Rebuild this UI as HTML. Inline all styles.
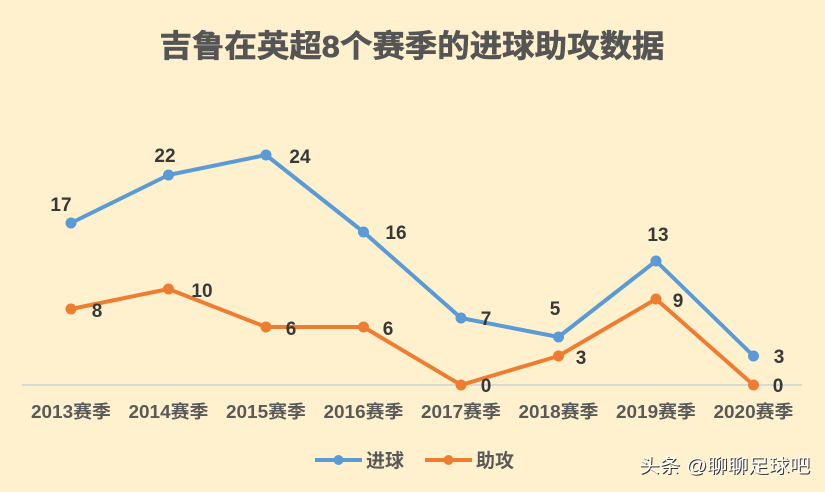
<!DOCTYPE html>
<html><head><meta charset="utf-8"><style>
html,body{margin:0;padding:0;background:#FFF1CE;}
svg{display:block;}
text{font-family:"Liberation Sans","Noto Sans CJK SC",sans-serif;}
</style></head><body>
<svg width="825" height="492" viewBox="0 0 825 492" xmlns="http://www.w3.org/2000/svg">
<rect width="825" height="492" fill="#FFF1CE"/>
<text x="412" y="57" text-anchor="middle" font-size="31" font-weight="bold" fill="#555555" stroke="#555555" stroke-width="0.6" textLength="505" lengthAdjust="spacingAndGlyphs">吉鲁在英超8个赛季的进球助攻数据</text>
<line x1="22" y1="385" x2="802" y2="385" stroke="#D9D9D9" stroke-width="2"/>
<g font-size="18" font-weight="bold" fill="#595959" text-anchor="middle">
<text x="71" y="418" textLength="80" lengthAdjust="spacingAndGlyphs">2013赛季</text>
<text x="168.5" y="418" textLength="80" lengthAdjust="spacingAndGlyphs">2014赛季</text>
<text x="266" y="418" textLength="80" lengthAdjust="spacingAndGlyphs">2015赛季</text>
<text x="363.5" y="418" textLength="80" lengthAdjust="spacingAndGlyphs">2016赛季</text>
<text x="461" y="418" textLength="80" lengthAdjust="spacingAndGlyphs">2017赛季</text>
<text x="558.5" y="418" textLength="80" lengthAdjust="spacingAndGlyphs">2018赛季</text>
<text x="656" y="418" textLength="80" lengthAdjust="spacingAndGlyphs">2019赛季</text>
<text x="753.5" y="418" textLength="80" lengthAdjust="spacingAndGlyphs">2020赛季</text>
</g>
<polyline fill="none" stroke="#5B9BD5" stroke-width="4" stroke-linejoin="round" points="71,223 168.5,175 266,155 363.5,232 461,318 558.5,337 656,261 753.5,356"/>
<g fill="#5B9BD5">
<circle cx="71" cy="223" r="5.5"/><circle cx="168.5" cy="175" r="5.5"/><circle cx="266" cy="155" r="5.5"/><circle cx="363.5" cy="232" r="5.5"/><circle cx="461" cy="318" r="5.5"/><circle cx="558.5" cy="337" r="5.5"/><circle cx="656" cy="261" r="5.5"/><circle cx="753.5" cy="356" r="5.5"/>
</g>
<polyline fill="none" stroke="#ED7D31" stroke-width="4" stroke-linejoin="round" points="71,309 168.5,289 266,327 363.5,327 461,385 558.5,356 656,299 753.5,385"/>
<g fill="#ED7D31">
<circle cx="71" cy="309" r="5.5"/><circle cx="168.5" cy="289" r="5.5"/><circle cx="266" cy="327" r="5.5"/><circle cx="363.5" cy="327" r="5.5"/><circle cx="461" cy="385" r="5.5"/><circle cx="558.5" cy="356" r="5.5"/><circle cx="656" cy="299" r="5.5"/><circle cx="753.5" cy="385" r="5.5"/>
</g>
<g font-size="19" font-weight="bold" fill="#383838" text-anchor="middle">
<text x="61" y="211">17</text>
<text x="165" y="162">22</text>
<text x="300" y="163">24</text>
<text x="396" y="239">16</text>
<text x="486" y="325">7</text>
<text x="555" y="315">5</text>
<text x="658" y="241">13</text>
<text x="779" y="363">3</text>
<text x="97" y="317">8</text>
<text x="202" y="297">10</text>
<text x="291" y="335">6</text>
<text x="388" y="335">6</text>
<text x="486" y="392">0</text>
<text x="581" y="364">3</text>
<text x="678" y="307">9</text>
<text x="778" y="392">0</text>
</g>
<line x1="315" y1="460" x2="362" y2="460" stroke="#5B9BD5" stroke-width="4"/>
<circle cx="338.5" cy="460" r="5" fill="#5B9BD5"/>
<text x="366" y="467" font-size="19" font-weight="bold" fill="#595959">进球</text>
<line x1="425" y1="460" x2="472" y2="460" stroke="#ED7D31" stroke-width="4"/>
<circle cx="448.5" cy="460" r="5" fill="#ED7D31"/>
<text x="476" y="467" font-size="19" font-weight="bold" fill="#595959">助攻</text>
<text x="639" y="472" font-size="19" fill="#333" transform="translate(1,1)" textLength="171" lengthAdjust="spacingAndGlyphs">头条 @聊聊足球吧</text>
<text x="639" y="472" font-size="19" fill="#FFFFFF" textLength="171" lengthAdjust="spacingAndGlyphs">头条 @聊聊足球吧</text>
</svg>
</body></html>
